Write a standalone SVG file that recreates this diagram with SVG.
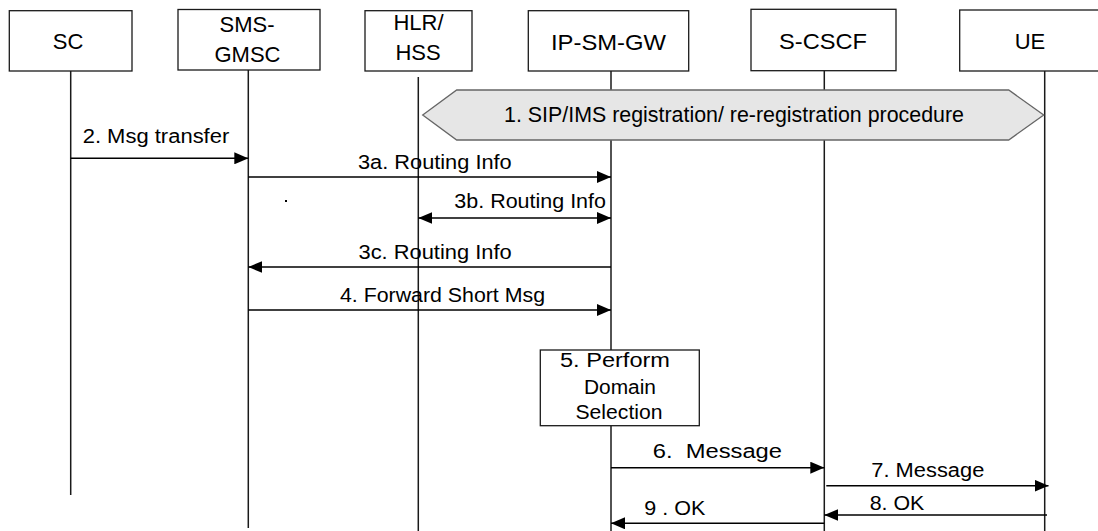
<svg xmlns="http://www.w3.org/2000/svg" width="1098" height="531" viewBox="0 0 1098 531">
<style>
.box{fill:#fff;stroke:#1a1a1a;stroke-width:1.3}
.life{stroke:#1a1a1a;stroke-width:1.5;fill:none}
.msg{stroke:#000;stroke-width:1.4;fill:none}
.hl{font-family:"Liberation Sans",Arial,sans-serif;font-size:22px;fill:#000}
.ml{font-family:"Liberation Sans",Arial,sans-serif;font-size:20px;fill:#000}
</style>
<defs>
<marker id="ah" markerUnits="userSpaceOnUse" markerWidth="14" markerHeight="12" refX="14" refY="6" orient="auto-start-reverse">
<path d="M0,0 L14,6 L0,12 Z" fill="#000"/>
</marker>
</defs>
<rect width="1098" height="531" fill="#fff"/>
<g id="lifelines">
<line class="life" x1="70.7" y1="71" x2="70.7" y2="495"/>
<line class="life" x1="248.3" y1="70" x2="248.3" y2="528"/>
<line class="life" x1="418.3" y1="77" x2="418.3" y2="531"/>
<line class="life" x1="611" y1="71" x2="611" y2="531"/>
<line class="life" x1="824.3" y1="71" x2="824.3" y2="531"/>
<line class="life" x1="1044.7" y1="71" x2="1044.7" y2="531"/>
</g>
<g id="node-sc">
<rect class="box" x="9.3" y="10.7" width="122.7" height="60.3"/>
<text class="hl" x="68" y="49.3" text-anchor="middle">SC</text>
</g>
<g id="node-smsgmsc">
<rect class="box" x="178" y="9.5" width="142" height="60.5"/>
<text class="hl" x="247" y="31.7" text-anchor="middle">SMS-</text>
<text class="hl" x="247.5" y="61.7" text-anchor="middle">GMSC</text>
</g>
<g id="node-hlr">
<rect class="box" x="365" y="10.7" width="107" height="60.3"/>
<text class="hl" x="418.5" y="30" text-anchor="middle">HLR/</text>
<text class="hl" x="418" y="60" text-anchor="middle">HSS</text>
</g>
<g id="node-ipsmgw">
<rect class="box" x="528.3" y="10.7" width="160.4" height="60.3"/>
<text class="hl" x="608.5" y="50" text-anchor="middle" textLength="115" lengthAdjust="spacingAndGlyphs">IP-SM-GW</text>
</g>
<g id="node-scscf">
<rect class="box" x="751" y="9.3" width="145" height="61.4"/>
<text class="hl" x="823" y="49.3" text-anchor="middle" textLength="88" lengthAdjust="spacingAndGlyphs">S-CSCF</text>
</g>
<g id="node-ue">
<rect class="box" x="959.7" y="10" width="140" height="61"/>
<text class="hl" x="1030" y="49.3" text-anchor="middle">UE</text>
</g>
<g id="node-registration">
<path d="M422.7,115 L456.7,90 L1008.7,90 L1043.7,115 L1008.7,140 L456.7,140 Z" fill="#e6e6e6" stroke="#666" stroke-width="1.3"/>
<text class="hl" x="504" y="121.5" font-size="21" textLength="460" lengthAdjust="spacingAndGlyphs">1. SIP/IMS registration/ re-registration procedure</text>
</g>
<g id="node-domain">
<rect class="box" x="540.3" y="350" width="159" height="75.7"/>
<text class="ml" x="615" y="367" text-anchor="middle" textLength="110" lengthAdjust="spacingAndGlyphs">5. Perform</text>
<text class="ml" x="620" y="394" text-anchor="middle" textLength="72" lengthAdjust="spacingAndGlyphs">Domain</text>
<text class="ml" x="619" y="418.5" text-anchor="middle" textLength="87" lengthAdjust="spacingAndGlyphs">Selection</text>
</g>
<g id="connectors">
<line class="msg" x1="70.7" y1="158.3" x2="248.3" y2="158.3" marker-end="url(#ah)"/>
<line class="msg" x1="248.3" y1="177" x2="611" y2="177" marker-end="url(#ah)"/>
<line class="msg" x1="418.3" y1="218" x2="611" y2="218" marker-start="url(#ah)" marker-end="url(#ah)"/>
<line class="msg" x1="611" y1="267" x2="248.3" y2="267" marker-end="url(#ah)"/>
<line class="msg" x1="248.3" y1="310" x2="611" y2="310" marker-end="url(#ah)"/>
<line class="msg" x1="611" y1="467.7" x2="824.3" y2="467.7" marker-end="url(#ah)"/>
<line class="msg" x1="826.3" y1="485.7" x2="1048.5" y2="485.7" marker-end="url(#ah)"/>
<line class="msg" x1="1047" y1="515" x2="824.3" y2="515" marker-end="url(#ah)"/>
<line class="msg" x1="824.3" y1="523.3" x2="611" y2="523.3" marker-end="url(#ah)"/>
<rect x="285" y="200" width="2" height="2" fill="#000"/>
</g>
<g id="labels">
<text class="ml" x="82.7" y="142.7" textLength="146.6" lengthAdjust="spacingAndGlyphs">2. Msg transfer</text>
<text class="ml" x="358" y="168.5" textLength="153.7" lengthAdjust="spacingAndGlyphs">3a. Routing Info</text>
<text class="ml" x="454.3" y="208" textLength="151.7" lengthAdjust="spacingAndGlyphs">3b. Routing Info</text>
<text class="ml" x="358.5" y="258.5" textLength="153.2" lengthAdjust="spacingAndGlyphs">3c. Routing Info</text>
<text class="ml" x="340" y="301.5" textLength="205" lengthAdjust="spacingAndGlyphs">4. Forward Short Msg</text>
<text class="ml" x="652.7" y="458.3" textLength="129.3" lengthAdjust="spacingAndGlyphs" xml:space="preserve">6.  Message</text>
<text class="ml" x="871.3" y="476.7" textLength="113" lengthAdjust="spacingAndGlyphs">7. Message</text>
<text class="ml" x="869.7" y="510" textLength="54.6" lengthAdjust="spacingAndGlyphs">8. OK</text>
<text class="ml" x="644.3" y="515" textLength="61" lengthAdjust="spacingAndGlyphs">9 . OK</text>
</g>
</svg>
